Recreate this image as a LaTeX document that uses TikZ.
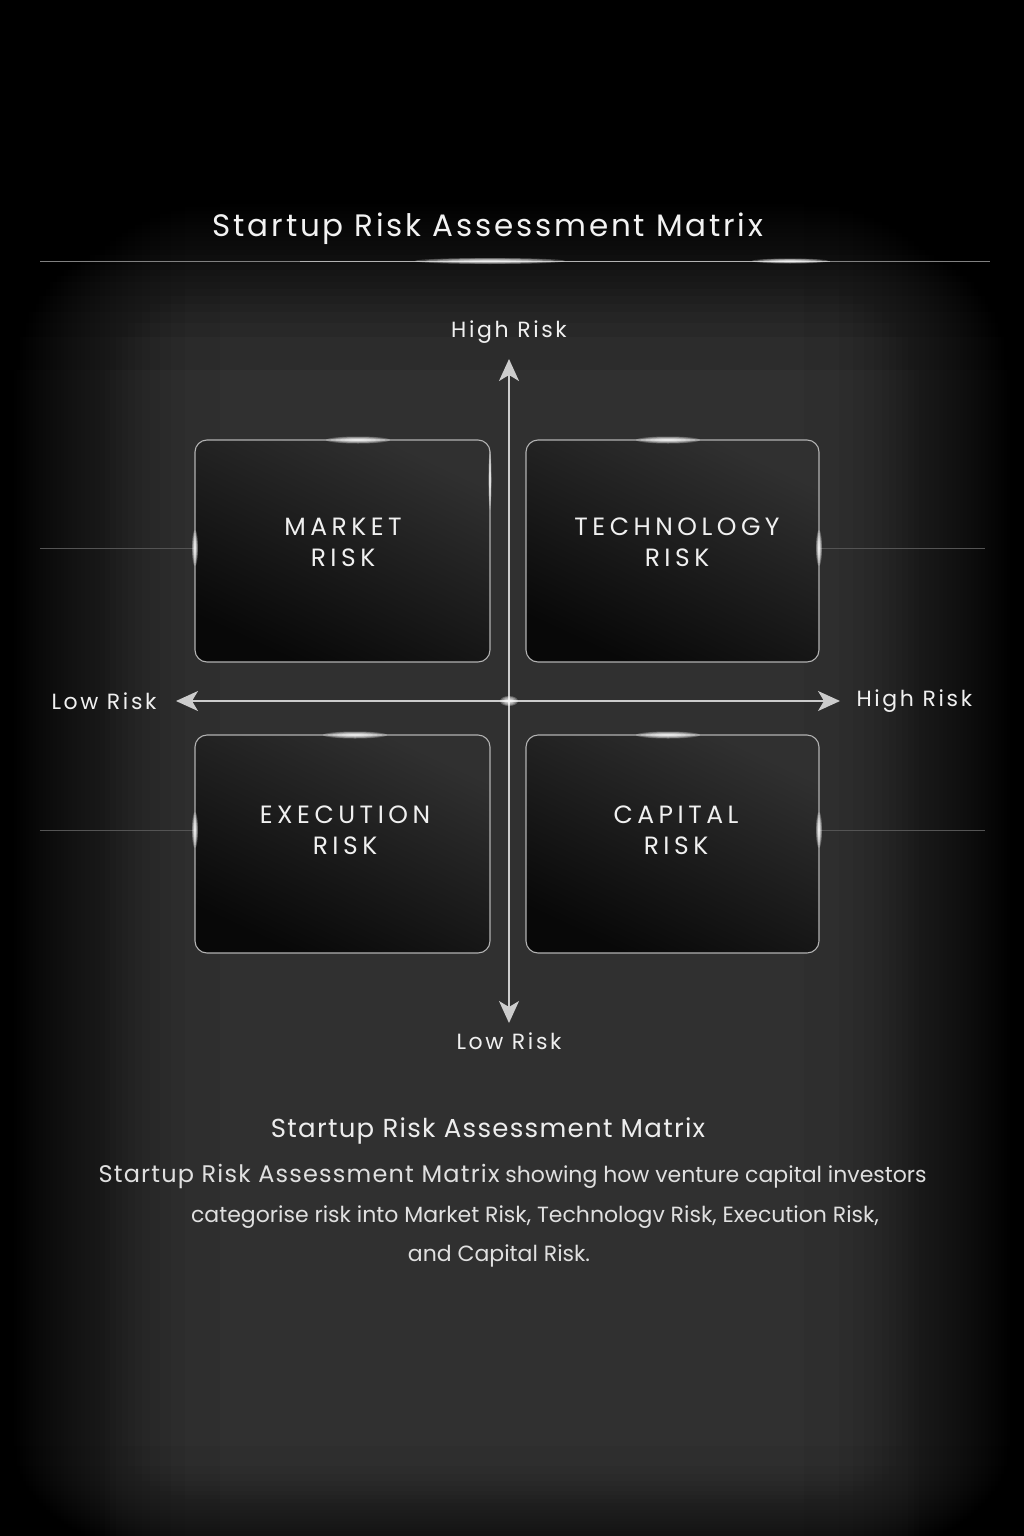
\documentclass[tikz,border=0pt]{standalone}
\usepackage{fontspec}
\setmainfont{Poppins}
\newfontfamily\titlefont[LetterSpace=9]{Poppins}
\newfontfamily\boxfont[LetterSpace=18]{Poppins}
\newfontfamily\axisfont[LetterSpace=12]{Poppins}
\newfontfamily\capfont[LetterSpace=5]{Poppins}
\usetikzlibrary{positioning,arrows.meta,calc}

\definecolor{bggray}{gray}{0.19}
\tikzset{
  quad/.style={draw=white!70!black,line width=1.1pt,rounded corners=12pt,
    top color=white!19!black,bottom color=black!97,shading angle=-25},
  quadtext/.style={text=white!94!black,align=center,font=\boxfont\fontsize{25}{31}\selectfont},
  axis/.style={draw=white!80!black,line width=1.8pt,
    {Stealth[length=22pt,width=20pt,inset=6pt]}-{Stealth[length=22pt,width=20pt,inset=6pt]}},
  axislabel/.style={text=white!94!black,font=\axisfont\fontsize{22}{24}\selectfont},
  captext/.style={text=white!88!black,anchor=base,font=\fontsize{22}{26}\selectfont},
  streak/.style={draw=white!33!black,line width=0.8pt}
}
% soft glow made of stacked see-through ellipses
\newcommand{\glow}[3]{%
  \foreach \k in {1,...,7}
    \fill[white,opacity=0.24] (#1) ellipse ({#2*\k/7} and {#3*\k/7});}

\begin{document}
\begin{tikzpicture}[x=1pt,y=-1pt]
\useasboundingbox (0,0) rectangle (1024,1536);
% background
\fill[bggray] (0,0) rectangle (1024,1536);
\fill[black] (0,0) rectangle (1024,160);
\foreach \i in {0,...,39}
  \fill[black,opacity=0.075] (0,160) rectangle (1024,{160+210*(1-sqrt(\i/40))});
\foreach \i in {0,...,39}{
  \fill[black,opacity=0.04] (0,0) rectangle ({220*(1-sqrt(\i/40))},1536);
  \fill[black,opacity=0.04] (1024,0) rectangle ({1024-220*(1-sqrt(\i/40))},1536);}
\foreach \i in {0,...,19}
  \fill[black,opacity=0.03] (0,1536) rectangle (1024,{1536-90*(1-sqrt(\i/20))});

% title and rule
\node [text=white!95!black,font=\titlefont\fontsize{31}{36}\selectfont,anchor=base] (title) at (488,236) {Startup Risk Assessment Matrix};
\coordinate (ruleL) at (40,261);
\coordinate (ruleR) at (990,261);
\draw [white!50!black,line width=1pt] (ruleL) -- (ruleR);
\draw [white!70!black,line width=1pt] (300,261) -- (830,261);
\glow{490,261}{75}{3}
\glow{790,261}{38}{2.5}

% streaks out of the boxes
\draw [streak] (40,548) -- (195,548);
\draw [streak] (40,830) -- (195,830);
\draw [streak] (819,548) -- (985,548);
\draw [streak] (819,830) -- (985,830);

% quadrants
\path [quad] (195,440) rectangle (490,662);
\path [quad] (526,440) rectangle (819,662);
\path [quad] (195,735) rectangle (490,953);
\path [quad] (526,735) rectangle (819,953);
\node [quadtext] (market) at (343,542) {MARKET\\RISK};
\node [quadtext] (tech) at (677,542) {TECHNOLOGY\\RISK};
\node [quadtext] (exec) at (345,830) {EXECUTION\\RISK};
\node [quadtext] (capital) at (676,830) {CAPITAL\\RISK};

% glints on the box edges
\glow{358,440}{32}{3.5}
\glow{668,440}{32}{3.5}
\glow{355,735}{32}{3.5}
\glow{668,735}{32}{3.5}
\glow{195,548}{3}{18}
\glow{819,548}{3}{18}
\glow{195,830}{3}{18}
\glow{819,830}{3}{18}
\glow{490,480}{1.5}{30}

% axes
\coordinate (top) at (509,359);
\coordinate (bottom) at (509,1023);
\coordinate (left) at (176,701);
\coordinate (right) at (840,701);
\draw [axis] (bottom) -- (top);
\draw [axis] (left) -- (right);
\glow{509,701}{9}{5}
\node [axislabel,above=12pt of top] (hi) {High Risk};
\node [axislabel,below=6pt of bottom] (lo) {Low Risk};
\node [axislabel,left=16pt of left] (lleft) {Low Risk};
\node [axislabel,right=13pt of right] (hright) {High Risk};

% caption
\node [captext,text=white!93!black,font=\capfont\fontsize{26}{30}\selectfont] (captitle) at (488,1137) {Startup Risk Assessment Matrix};
\node [captext,anchor=base west] (cap1) at (95,1182)
  {{\capfont\fontsize{24}{28}\selectfont Startup Risk Assessment Matrix} showing how venture capital investors};
\node [captext] (cap2) at (535,1222) {categorise risk into Market Risk, Technologv Risk, Execution Risk,};
\node [captext] (cap3) at (499,1261) {and Capital Risk.};
\end{tikzpicture}
\end{document}
